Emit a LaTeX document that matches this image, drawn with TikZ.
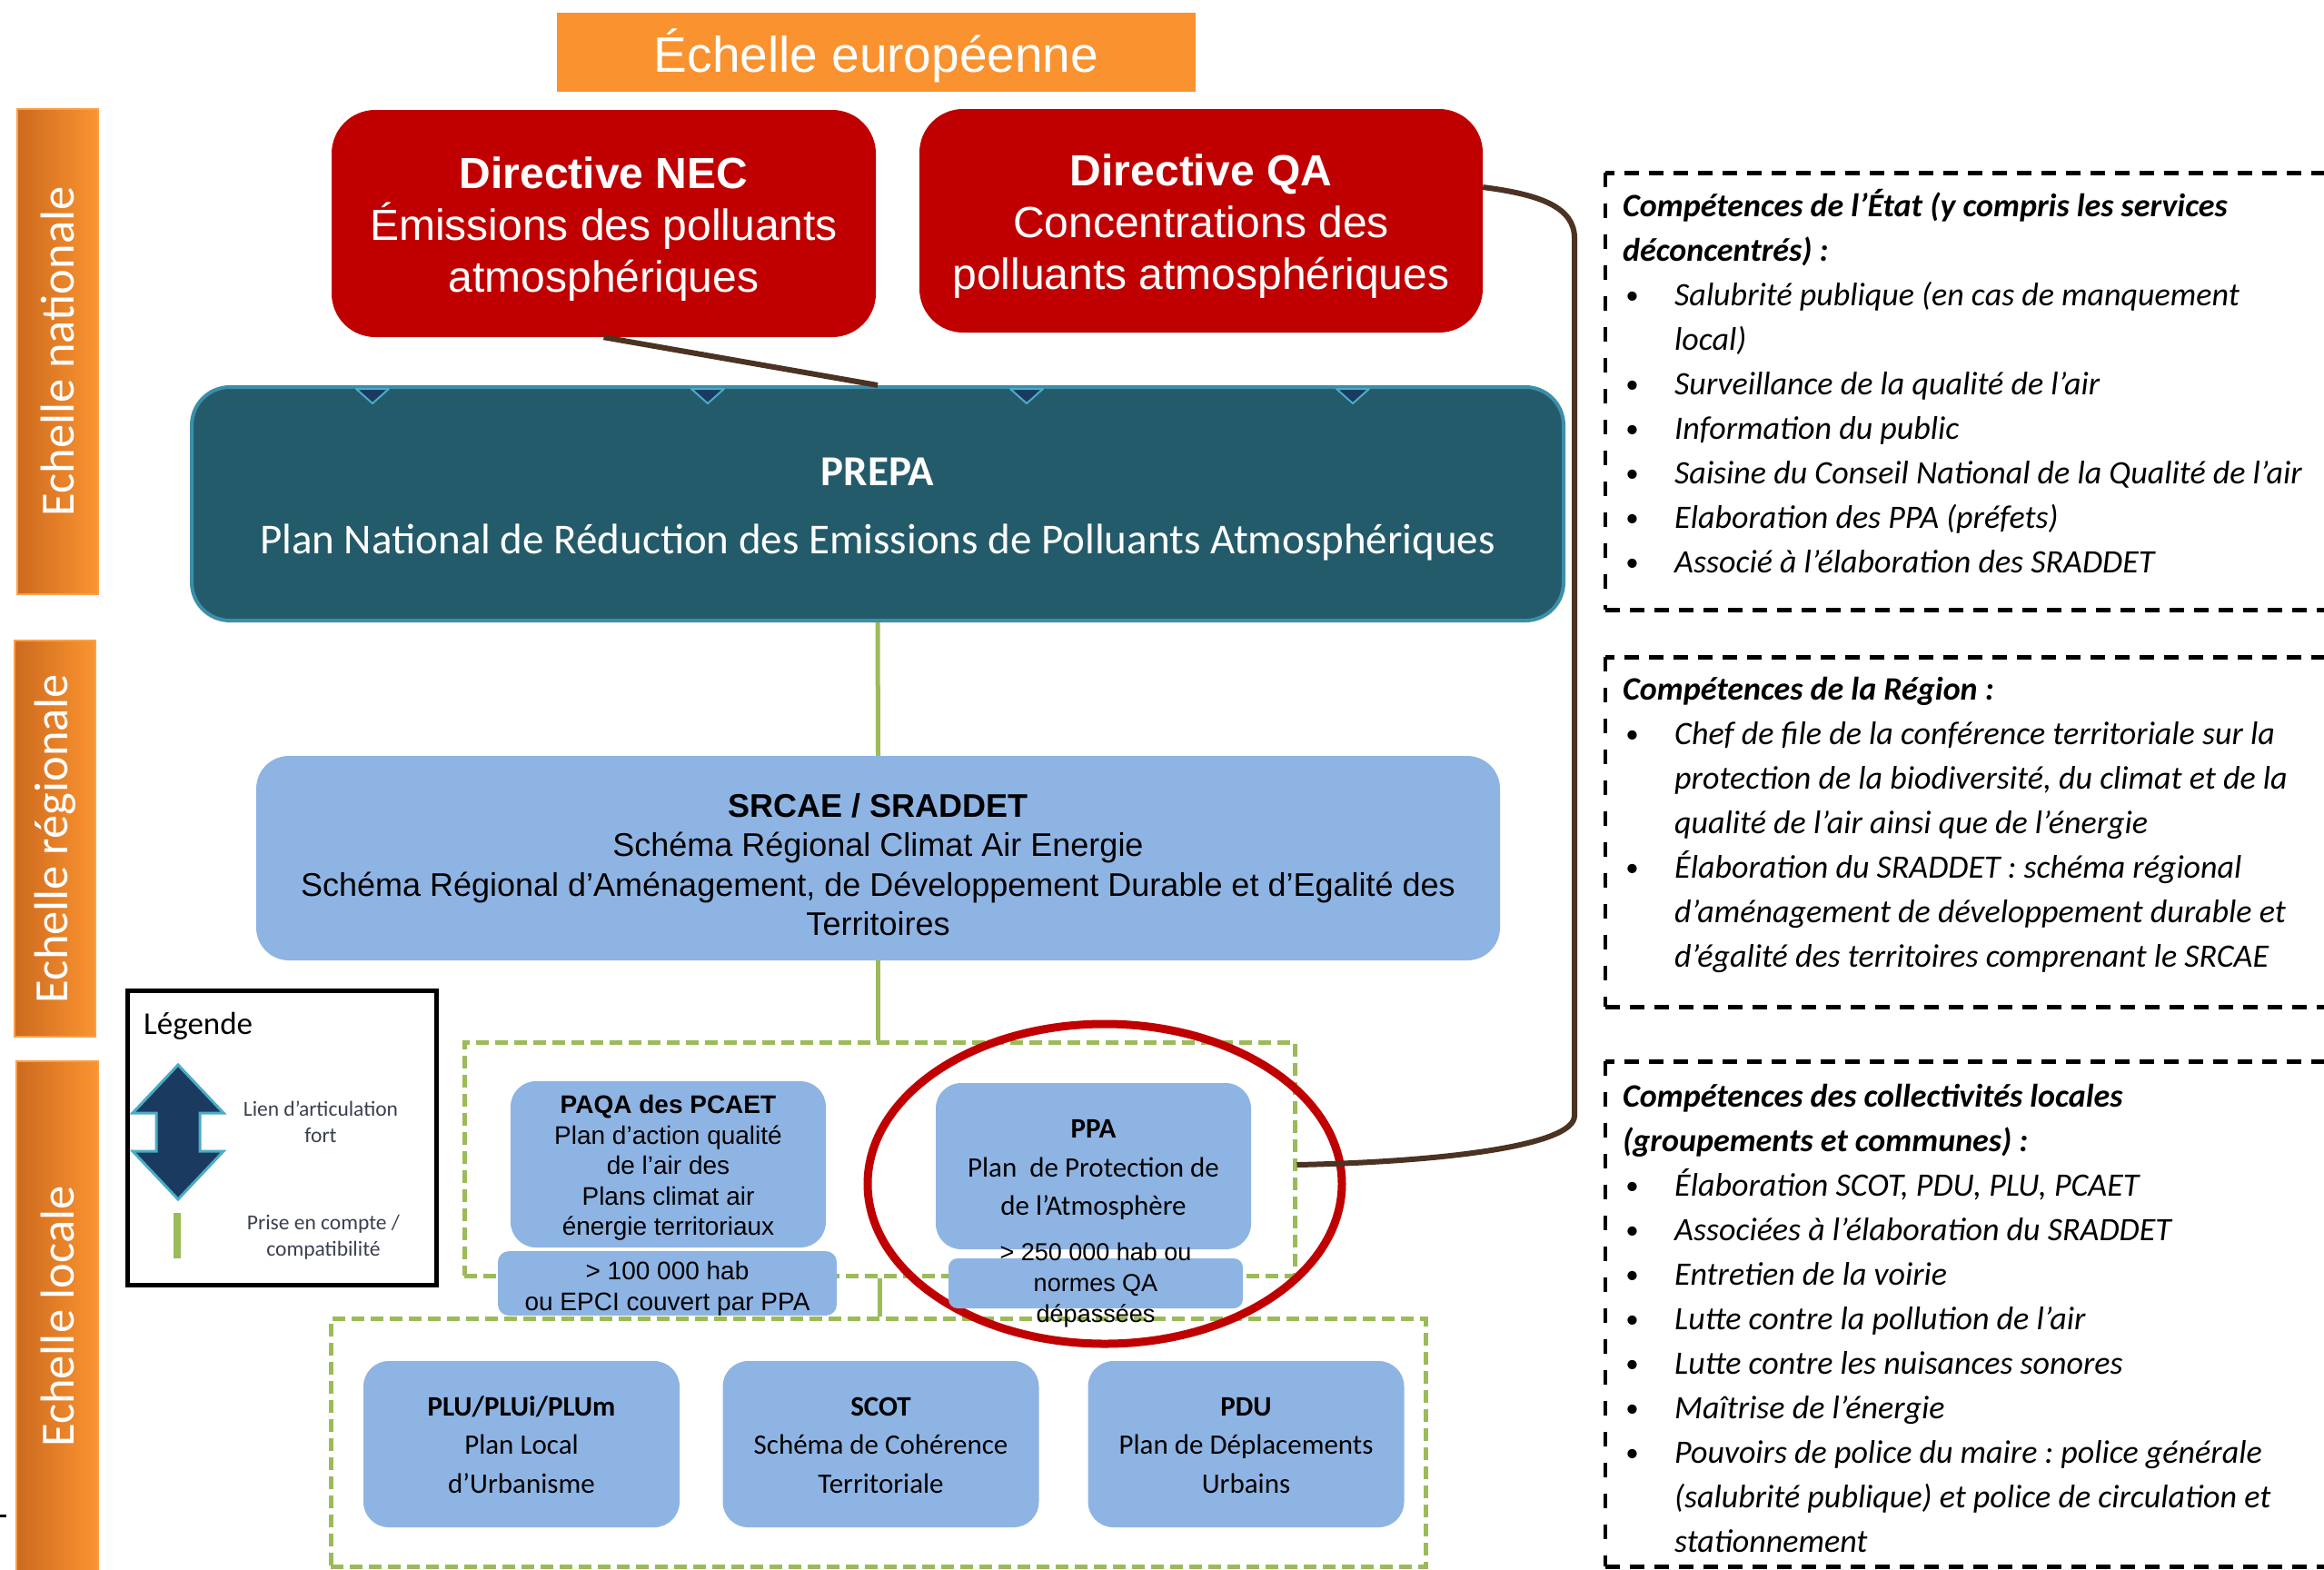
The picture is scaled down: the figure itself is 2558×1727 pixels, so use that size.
\documentclass[tikz,border=0pt]{standalone}
\usepackage{fontspec}
\setmainfont{Liberation Sans}
\newfontfamily\calfont{Carlito}
\usetikzlibrary{calc}
\frenchspacing
\definecolor{eurOr}{HTML}{FA9230}
\definecolor{barTop}{HTML}{FB9431}
\definecolor{barBot}{HTML}{CC6A1E}
\definecolor{barEdge}{HTML}{F9A04A}
\definecolor{redD}{HTML}{C00000}
\definecolor{tealP}{HTML}{245B6B}
\definecolor{tealB}{HTML}{3C8FA8}
\definecolor{blueB}{HTML}{8EB4E3}
\definecolor{greenL}{HTML}{9BBB59}
\definecolor{brownL}{HTML}{4B3222}
\definecolor{navyA}{HTML}{1B3A5F}
\definecolor{lblue}{HTML}{4BACC6}
\definecolor{legtxt}{HTML}{3A3F4F}
\newcommand\bul{\makebox[57pt][l]{\hspace{3pt}\raisebox{1.5pt}{\scalebox{0.8}{•}}}}
\newcommand\ind{\hspace*{57pt}}
\newcommand\up[1]{\rule{0pt}{#1pt}}
\tikzset{
  barbox/.style={rotate=90, draw=barEdge, line width=2pt, left color=barBot, right color=barTop,
    inner sep=0pt, text=white, font=\calfont\fontsize{52.5}{60}\selectfont},
  eurbox/.style={fill=eurOr, text=white, inner sep=0pt, font=\fontsize{55}{60}\selectfont},
  redbox/.style={fill=redD, rounded corners=48pt, text=white, align=center, inner sep=0pt,
    font=\fontsize{48}{57}\selectfont},
  prepabox/.style={fill=tealP, draw=tealB, line width=4pt, rounded corners=42pt, text=white,
    align=center, inner sep=0pt, font=\calfont\fontsize{47}{75}\selectfont},
  bluebox/.style={fill=blueB, rounded corners=28pt, align=center, inner sep=0pt},
  arialsmall/.style={font=\fontsize{28}{33.5}\selectfont},
  calsmall/.style={font=\calfont\fontsize{31}{42.5}\selectfont},
  greendash/.style={draw=greenL, line width=5pt, dash pattern=on 14pt off 7pt, inner sep=0pt},
  greenlink/.style={draw=greenL, line width=5pt},
  brownlink/.style={draw=brownL, line width=6pt},
  blackdash/.style={draw=black, line width=5pt, dash pattern=on 16pt off 11pt},
  blackdashv/.style={draw=black, line width=3.5pt, dash pattern=on 16pt off 18pt},
  comptext/.style={anchor=base west, inner sep=0pt, font=\calfont\itshape\fontsize{36}{49}\selectfont},
  tri/.style={fill=navyA, draw=lblue, line width=2pt, line join=round},
  legtext/.style={text=legtxt, align=center, inner sep=0pt, font=\calfont\fontsize{23.5}{29}\selectfont},
}
\begin{document}
\begin{tikzpicture}[x=1pt,y=-1pt]
\useasboundingbox (0,0) rectangle (2558,1727);

% scale bars
\node[barbox, minimum width=534pt, minimum height=89pt] (nat) at (63.5,387) {Echelle nationale};
\node[barbox, minimum width=436pt, minimum height=89pt] (reg) at (60.5,923) {Echelle régionale};
\node[barbox, minimum width=562pt, minimum height=90pt] (loc) at (63,1449) {Echelle locale};
\draw[line width=3pt] (0,1668) -- (7,1668);

% European level
\node[eurbox, minimum width=703pt, minimum height=87pt] (eur) at (964.5,57.5) {\up{56}Échelle européenne};
\node[redbox, minimum width=599pt, minimum height=250pt] (nec) at (664.5,246)
  {\up{47}\textbf{Directive NEC}\\Émissions des polluants\\atmosphériques};
\node[redbox, minimum width=620pt, minimum height=246pt] (qa) at (1322,243)
  {\up{46}\textbf{Directive QA}\\Concentrations des\\polluants atmosphériques};

% PREPA
\node[prepabox, minimum width=1510pt, minimum height=257pt] (prepa) at (966,554.5)
  {\up{43}\textbf{PREPA}\\Plan National de Réduction des Emissions de Polluants Atmosphériques};
\foreach \x in {410,779,1130,1489}
  \draw[tri] (\x-18,428) -- (\x+18,428) -- (\x,444) -- cycle;
\draw[brownlink] (nec.south) -- (prepa.north);

% SRCAE
\node[bluebox, rounded corners=36pt, minimum width=1369pt, minimum height=225pt,
  font=\fontsize{36}{43.5}\selectfont] (srcae) at (966.5,944.5)
  {\up{40}\textbf{SRCAE / SRADDET}\\Schéma Régional Climat Air Energie\\Schéma Régional d’Aménagement, de Développement Durable et d’Egalité des\\Territoires};

% groups
\node[greendash, minimum width=914pt, minimum height=257pt] (grp1) at (968,1275.5) {};
\node[greendash, minimum width=1205pt, minimum height=273pt] (grp2) at (966.5,1588) {};
\draw[greenlink] (prepa.south) -- (srcae.north);
\draw[greenlink] (srcae.south) -- (srcae.south |- grp1.north);
\draw[greenlink] (grp1.south) -- (grp1.south |- grp2.north);

% PAQA
\node[bluebox, arialsmall, minimum width=347pt, minimum height=183pt] (paqa) at (735.5,1281.5)
  {\up{28}\textbf{PAQA des PCAET}\\Plan d’action qualité\\de l’air des\\Plans climat air\\énergie territoriaux};
\node[bluebox, rounded corners=12pt, minimum width=373pt, minimum height=69pt,
  font=\fontsize{28}{34}\selectfont] (paqasub) at (734.5,1412.5)
  {\up{31}> 100 000 hab\\ou EPCI couvert par PPA};

% ring
\draw[redD, line width=9pt] (1216,1303) ellipse [x radius=261, y radius=176];

% PPA
\node[bluebox, calsmall, minimum width=347pt, minimum height=183pt] (ppa) at (1203.5,1283.5)
  {\up{28}\textbf{PPA}\\Plan\ \ de Protection de\\de l’Atmosphère};
\node[bluebox, rounded corners=10pt, minimum width=324pt, minimum height=55pt,
  font=\fontsize{27}{34}\selectfont] (ppasub) at (1206,1412.5)
  {\raisebox{-16.5pt}{\smash{\begin{tabular}{@{}c@{}}> 250 000 hab ou\\normes QA\\dépassées\end{tabular}}}};

% local plans
\node[bluebox, calsmall, minimum width=348pt, minimum height=183pt] (plu) at (574,1589.5)
  {\up{23}\textbf{PLU/PLUi/PLUm}\\Plan Local\\d’Urbanisme};
\node[bluebox, calsmall, minimum width=348pt, minimum height=183pt] (scot) at (969.5,1589.5)
  {\up{23}\textbf{SCOT}\\Schéma de Cohérence\\Territoriale};
\node[bluebox, calsmall, minimum width=348pt, minimum height=183pt] (pdu) at (1371.5,1589.5)
  {\up{23}\textbf{PDU}\\Plan de Déplacements\\Urbains};

% connector QA -> PPA group
\draw[brownlink] ($(qa.north east)!0.35!(qa.south east)$)
  .. controls (1695,214) and (1733,228) .. (1733,262) -- (1733,1228)
  .. controls (1733,1262) and (1580,1279) .. ([yshift=-6.5pt]grp1.east);

% legend
\node[draw=black, line width=5pt, minimum width=340pt, minimum height=324pt, inner sep=0pt] (legend) at (310,1252) {};
\node[anchor=base west, inner sep=0pt, font=\calfont\fontsize{35}{40}\selectfont] (legtitle) at (158,1138) {Légende};
\draw[fill=navyA, draw=lblue, line width=3pt]
  (196,1172) -- (246,1225) -- (220,1225) -- (220,1267) -- (246,1267) -- (196,1320)
  -- (146,1267) -- (172,1267) -- (172,1225) -- (146,1225) -- cycle;
\draw[greenL, line width=8pt] (195,1335) -- (195,1385);
\node[legtext] (leg1) at (353,1235) {Lien d’articulation\\fort};
\node[legtext] (leg2) at (356,1362) {Prise en compte /\\compatibilité};

% competences boxes
\draw[blackdash] (2560,190) -- (1767,190);
\draw[blackdashv] (1767,190) -- (1767,671);
\draw[blackdash] (1767,671) -- (2560,671);
\node[comptext] (etat) at (1786,238) {\begin{tabular}[t]{@{}l@{}}
\textbf{Compétences de l’État (y compris les services}\\
\textbf{déconcentrés) :}\\
\bul Salubrité publique (en cas de manquement\\
\ind local)\\
\bul Surveillance de la qualité de l’air\\
\bul Information du public\\
\bul Saisine du Conseil National de la Qualité de l’air\\
\bul Elaboration des PPA (préfets)\\
\bul Associé à l’élaboration des SRADDET
\end{tabular}};

\draw[blackdash] (2560,723) -- (1767,723);
\draw[blackdashv] (1767,723) -- (1767,1108);
\draw[blackdash] (1767,1108) -- (2560,1108);
\node[comptext] (region) at (1786,770) {\begin{tabular}[t]{@{}l@{}}
\textbf{Compétences de la Région :}\\
\bul Chef de file de la conférence territoriale sur la\\
\ind protection de la biodiversité, du climat et de la\\
\ind qualité de l’air ainsi que de l’énergie\\
\bul Élaboration du SRADDET : schéma régional\\
\ind d’aménagement de développement durable et\\
\ind d’égalité des territoires comprenant le SRCAE
\end{tabular}};

\draw[blackdash] (2560,1168) -- (1767,1168);
\draw[blackdashv] (1767,1168) -- (1767,1724);
\draw[blackdash] (1767,1724) -- (2560,1724);
\node[comptext] (coll) at (1786,1218) {\begin{tabular}[t]{@{}l@{}}
\textbf{Compétences des collectivités locales}\\
\textbf{(groupements et communes) :}\\
\bul Élaboration SCOT, PDU, PLU, PCAET\\
\bul Associées à l’élaboration du SRADDET\\
\bul Entretien de la voirie\\
\bul Lutte contre la pollution de l’air\\
\bul Lutte contre les nuisances sonores\\
\bul Maîtrise de l’énergie\\
\bul Pouvoirs de police du maire : police générale\\
\ind (salubrité publique) et police de circulation et\\
\ind stationnement
\end{tabular}};
\end{tikzpicture}
\end{document}
